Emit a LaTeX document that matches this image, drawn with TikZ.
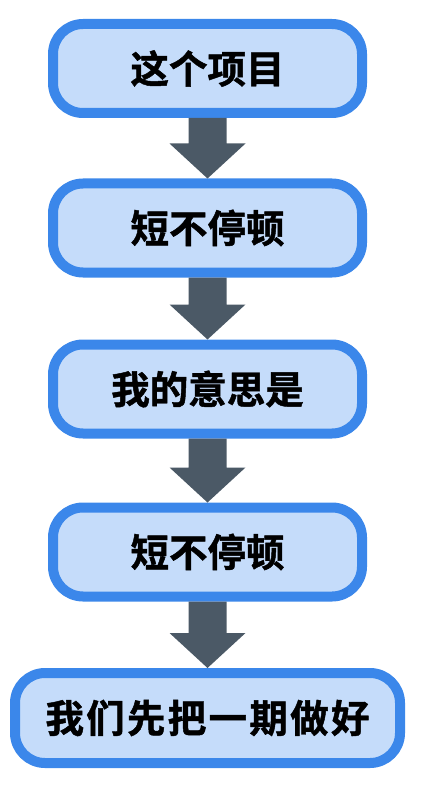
\documentclass[tikz,border=0pt]{standalone}
\usepackage{fontspec}
\newfontfamily\cjk[BoldFont={Noto Sans CJK SC Bold}, BoldFeatures={FakeBold=1.2}]{Noto Sans CJK SC}
\usetikzlibrary{calc}
\definecolor{bordblue}{HTML}{3B87EA}
\definecolor{fillblue}{HTML}{C5DCFA}
\definecolor{arrowgray}{HTML}{4B5966}
\begin{document}
\begin{tikzpicture}[x=1pt,y=1pt,
  stepbox/.style={draw=bordblue, fill=fillblue, line width=10pt, rounded corners=30pt,
    minimum width=309pt, minimum height=89pt, inner sep=0pt, text=black,
    font=\cjk\bfseries\fontsize{38.5}{40}\selectfont},
  flowarrow/.style={fill=arrowgray}]
\useasboundingbox (0,0) rectangle (420,-791);
\node[stepbox] (b1) at (207.5,-68.5) {这个项目};
\node[stepbox] (b2) at (207.5,-228) {短不停顿};
\node[stepbox] (b3) at (207.5,-389) {我的意思是};
\node[stepbox] (b4) at (207.5,-552) {短不停顿};
\node[stepbox, minimum width=385pt, minimum height=90pt] (b5) at (207.5,-718)
  {\addfontfeatures{LetterSpace=6}我们先把一期做好};
\foreach \a/\b in {b1/b2,b2/b3,b3/b4,b4/b5}{
  \fill[flowarrow] ($(\a.south)+(-19,0)$) -- ($(\b.north)+(-19,35)$) -- ($(\b.north)+(-38,35)$)
    -- (\b.north) -- ($(\b.north)+(38,35)$) -- ($(\b.north)+(19,35)$) -- ($(\a.south)+(19,0)$) -- cycle;
}
\end{tikzpicture}
\end{document}
